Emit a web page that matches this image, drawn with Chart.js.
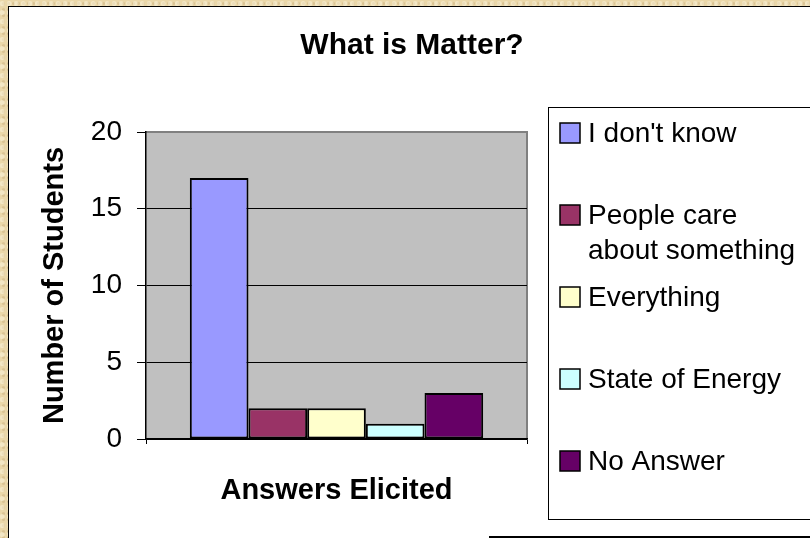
<!DOCTYPE html>
<html>
<head>
<meta charset="utf-8">
<script src="https://cdn.jsdelivr.net/npm/chart.js@4"></script>
<style>
  html, body { margin: 0; padding: 0; }
  body {
    width: 810px; height: 538px; overflow: hidden; position: relative;
    background-color: #ead7a9;
    background-image:
      radial-gradient(circle at 30% 40%, rgba(255,250,230,0.45) 0 2px, transparent 3px),
      radial-gradient(circle at 70% 60%, rgba(190,160,110,0.35) 0 1px, transparent 2px);
    background-size: 7px 9px, 5px 6px;
  }
  #frame { position: absolute; left: 8px; top: 6px; width: 820px; height: 560px; background: #fff; border-left: 1px solid #000; border-top: 1px solid #000; }
  #strip { position: absolute; left: 489px; top: 536px; width: 330px; height: 3px; background: #000; }
  #matterChart { position: absolute; left: 0; top: 0; }
</style>
</head>
<body>
<div id="frame"></div>
<div id="strip"></div>
<canvas id="matterChart" width="810" height="538"></canvas>
<script>
const chartTitle = 'What is Matter?';
const categories = [''];
const answers = ["I don't know", 'People care about something', 'Everything', 'State of Energy', 'No Answer'];
const students = [17, 2, 2, 1, 3];
const yTicks = [0, 5, 10, 15, 20];
const colors = ['#9999ff', '#993366', '#ffffcc', '#ccffff', '#660066'];

const FONT = 'Arial, "Liberation Sans", sans-serif';
Chart.defaults.font.family = FONT;
Chart.defaults.color = '#000';

// gray plot background with gray frame on top and right
const plotBack = {
  id: 'plotBack',
  beforeDraw(chart) {
    const { ctx, chartArea: a } = chart;
    ctx.save();
    ctx.fillStyle = '#c0c0c0';
    ctx.fillRect(a.left, a.top, a.right - a.left, a.bottom - a.top);
    ctx.strokeStyle = '#808080';
    ctx.lineWidth = 2;
    ctx.beginPath();
    ctx.moveTo(a.left, a.top);
    ctx.lineTo(a.right, a.top);
    ctx.lineTo(a.right, a.bottom);
    ctx.stroke();
    ctx.restore();
  }
};

// title and the boxed legend on the right
const sideLegend = {
  id: 'sideLegend',
  afterDraw(chart) {
    const { ctx } = chart;
    ctx.save();
    ctx.fillStyle = '#000';
    ctx.font = 'bold 30px ' + FONT;
    ctx.textAlign = 'center';
    ctx.textBaseline = 'middle';
    ctx.fillText(chartTitle, 412, 46);

    ctx.strokeStyle = '#000';
    ctx.lineWidth = 1;
    ctx.strokeRect(548.5, 107.5, 300, 412);

    ctx.font = '28px ' + FONT;
    ctx.textAlign = 'left';
    chart.data.datasets.forEach((ds, i) => {
      const cy = 133 + i * 82;
      ctx.fillStyle = ds.backgroundColor;
      ctx.fillRect(560, cy - 10, 20, 20);
      ctx.lineWidth = 1.5;
      ctx.strokeRect(560, cy - 10, 20, 20);
      // wrap long labels
      const words = ds.label.split(' ');
      const lines = [];
      let line = '';
      words.forEach(w => {
        const test = line ? line + ' ' + w : w;
        if (ctx.measureText(test).width > 218 && line) {
          lines.push(line);
          line = w;
        } else {
          line = test;
        }
      });
      lines.push(line);
      ctx.fillStyle = '#000';
      lines.forEach((l, k) => ctx.fillText(l, 588, cy + 1 + k * 35));
    });
    ctx.restore();
  }
};

new Chart(document.getElementById('matterChart'), {
  type: 'bar',
  data: {
    labels: categories,
    datasets: answers.map((a, i) => ({
      label: a,
      data: [students[i]],
      backgroundColor: colors[i],
      borderColor: '#000',
      borderWidth: 2,
      borderSkipped: false
    }))
  },
  options: {
    responsive: false,
    animation: false,
    events: [],
    layout: { padding: { left: 38, top: 132, right: 283, bottom: 30 } },
    datasets: { bar: { barPercentage: 1, categoryPercentage: 0.77 } },
    plugins: { legend: { display: false }, title: { display: false }, tooltip: { enabled: false } },
    scales: {
      x: {
        grid: { offset: true, drawOnChartArea: false, color: '#000', tickLength: 5 },
        border: { color: '#000', width: 1.5 },
        ticks: { display: false },
        title: { display: true, text: 'Answers Elicited', font: { size: 29, weight: 'bold' }, padding: 0 },
        afterFit(s) { s.height = 69; }
      },
      y: {
        min: yTicks[0],
        max: yTicks[yTicks.length - 1],
        ticks: { stepSize: yTicks[1] - yTicks[0], padding: 15, font: { size: 28 } },
        grid: {
          color: c => (c.tick && c.tick.value === yTicks[yTicks.length - 1] ? '#808080' : '#000'),
          tickColor: '#000',
          tickLength: 9,
          lineWidth: 1
        },
        border: { color: '#000', width: 1.5 },
        title: { display: true, text: 'Number of Students', font: { size: 29, weight: 'bold' }, padding: 0 },
        afterFit(s) { s.width = 108; }
      }
    }
  },
  plugins: [plotBack, sideLegend]
});
</script>
</body>
</html>
